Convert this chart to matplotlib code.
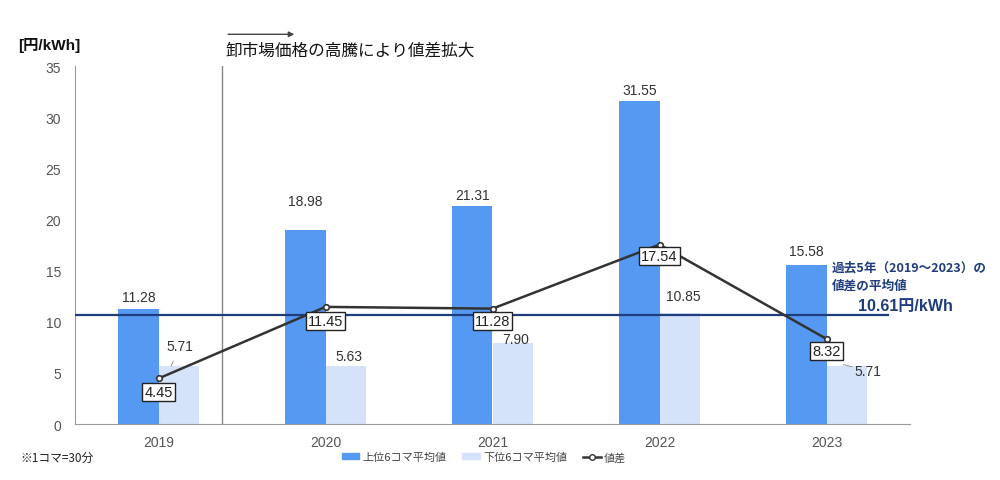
import matplotlib.pyplot as plt
from matplotlib.lines import Line2D
from matplotlib.patches import Patch

plt.rcParams['font.family'] = ['Liberation Sans', 'Noto Sans CJK JP']

# データ
years = ['2019', '2020', '2021', '2022', '2023']
upper6 = [11.28, 18.98, 21.31, 31.55, 15.58]
lower6 = [5.71, 5.63, 7.90, 10.85, 5.71]
spread = [4.45, 11.45, 11.28, 17.54, 8.32]
avg_spread = 10.61

# ラベル位置(y方向のずらし量)
upper_off = [1.15, 2.8, 1.1, 1.1, 1.3]
lower_off = [1.9, 1.0, 0.4, 1.65, 0]
spread_off = [-1.32, -1.38, -1.21, -1.12, -1.18]

c_upper = '#5599F2'
c_lower = '#D5E3FA'
c_line = '#333333'
c_avg = '#1F3C7C'
c_txt = '#333333'

fig = plt.figure(figsize=(10, 4.81), dpi=100)
ax = fig.add_axes([0.075, 0.1164, 0.835, 0.7443])

x = list(range(len(years)))
w = 0.24
ax.bar([i - w / 2 for i in x], upper6, width=w, color=c_upper, zorder=2)
ax.bar([i + w / 2 for i in x], lower6, width=w, color=c_lower, zorder=2)

# 平均値の線
ax.plot([-0.5, 4.37], [avg_spread, avg_spread], color=c_avg, lw=1.6, zorder=3)

# 値差の折れ線
ax.plot(x, spread, color=c_line, lw=1.8, marker='o', ms=4,
        mfc='white', mec=c_line, mew=1.2, zorder=5)

# 上位バーのラベル
for i, v in enumerate(upper6):
    ax.text(i - w / 2, v + upper_off[i], f'{v:.2f}', ha='center', va='center',
            fontsize=10, color=c_txt)

# 下位バーのラベル
for i, v in enumerate(lower6):
    if i == 0:
        ax.annotate(f'{v:.2f}', xy=(i + w / 2 - 0.045, v - 0.05),
                    xytext=(i + w / 2 + 0.01, v + lower_off[i]), ha='center', va='center',
                    fontsize=10, color=c_txt, zorder=4,
                    arrowprops=dict(arrowstyle='-', color='#888888', lw=0.6,
                                    shrinkA=4, shrinkB=0))
    elif i == 4:
        ax.annotate(f'{v:.2f}', xy=(i + w / 2 - 0.02, v + 0.1),
                    xytext=(i + w / 2 + 0.13, v - 0.5), ha='center', va='center',
                    fontsize=10, color=c_txt,
                    arrowprops=dict(arrowstyle='-', color='#888888', lw=0.6,
                                    shrinkA=7, shrinkB=0))
    else:
        ax.text(i + w / 2 + 0.02, v + lower_off[i], f'{v:.2f}', ha='center',
                va='center', fontsize=10, color=c_txt)

# 値差のラベル(枠付き)
for i, v in enumerate(spread):
    ax.text(i, v + spread_off[i], f'{v:.2f}', ha='center', va='center',
            fontsize=10.5, color='#222222', zorder=6,
            bbox=dict(boxstyle='square,pad=0.15', fc='white', ec='#222222', lw=1))

# 区切り線と矢印
ax.axvline(0.38, color='#888888', lw=1, zorder=1)
ax.annotate('', xy=(0.83, 38.1), xytext=(0.40, 38.1), annotation_clip=False,
            arrowprops=dict(arrowstyle='-|>', color='#444444', lw=1,
                            mutation_scale=8))
ax.text(0.40, 36.6, '卸市場価格の高騰により値差拡大', ha='left', va='center',
        fontsize=12, color='#111111', clip_on=False,
        family=['Noto Sans CJK JP'])

# 平均値の注記
ax.text(4.03, 16.0, '過去5年（2019～2023）の\n値差の平均値', ha='left', va='top',
        fontsize=9.1, color=c_avg, fontweight='bold', linespacing=1.5,
        clip_on=False, family=['Noto Sans CJK JP'])
ax.text(4.19, 11.55, '10.61円/kWh', ha='left', va='center', fontsize=11.5,
        color=c_avg, fontweight='bold', clip_on=False)

ax.set_xlim(-0.5, 4.5)
ax.set_ylim(0, 35)
ax.set_yticks(range(0, 36, 5))
ax.set_xticks(x)
ax.set_xticklabels(years)
ax.tick_params(axis='both', length=0, labelsize=10, colors='#555555', pad=8)
ax.tick_params(axis='y', pad=10)
for s in ['top', 'right']:
    ax.spines[s].set_visible(False)
for s in ['left', 'bottom']:
    ax.spines[s].set_color('#999999')

fig.text(0.018, 0.906, '[円/kWh]', fontsize=11, fontweight='bold', color='#111111',
         va='center')
fig.text(0.02, 0.047, '※1コマ=30分', fontsize=8.5, color='#222222', va='center',
         family=['Noto Sans CJK JP'])

handles = [Patch(color=c_upper), Patch(color=c_lower),
           Line2D([], [], color=c_line, lw=1.8, marker='o', ms=4, mfc='white', mec=c_line)]
fig.legend(handles, ['上位6コマ平均値', '下位6コマ平均値', '値差'],
           loc='center', bbox_to_anchor=(0.484, 0.048), ncol=3, frameon=False,
           handlelength=1.6, handleheight=0.4, columnspacing=1.4,
           handletextpad=0.3, labelcolor='#444444',
           prop={'family': ['Noto Sans CJK JP'], 'size': 8})

fig.savefig('out.png', dpi=100)
